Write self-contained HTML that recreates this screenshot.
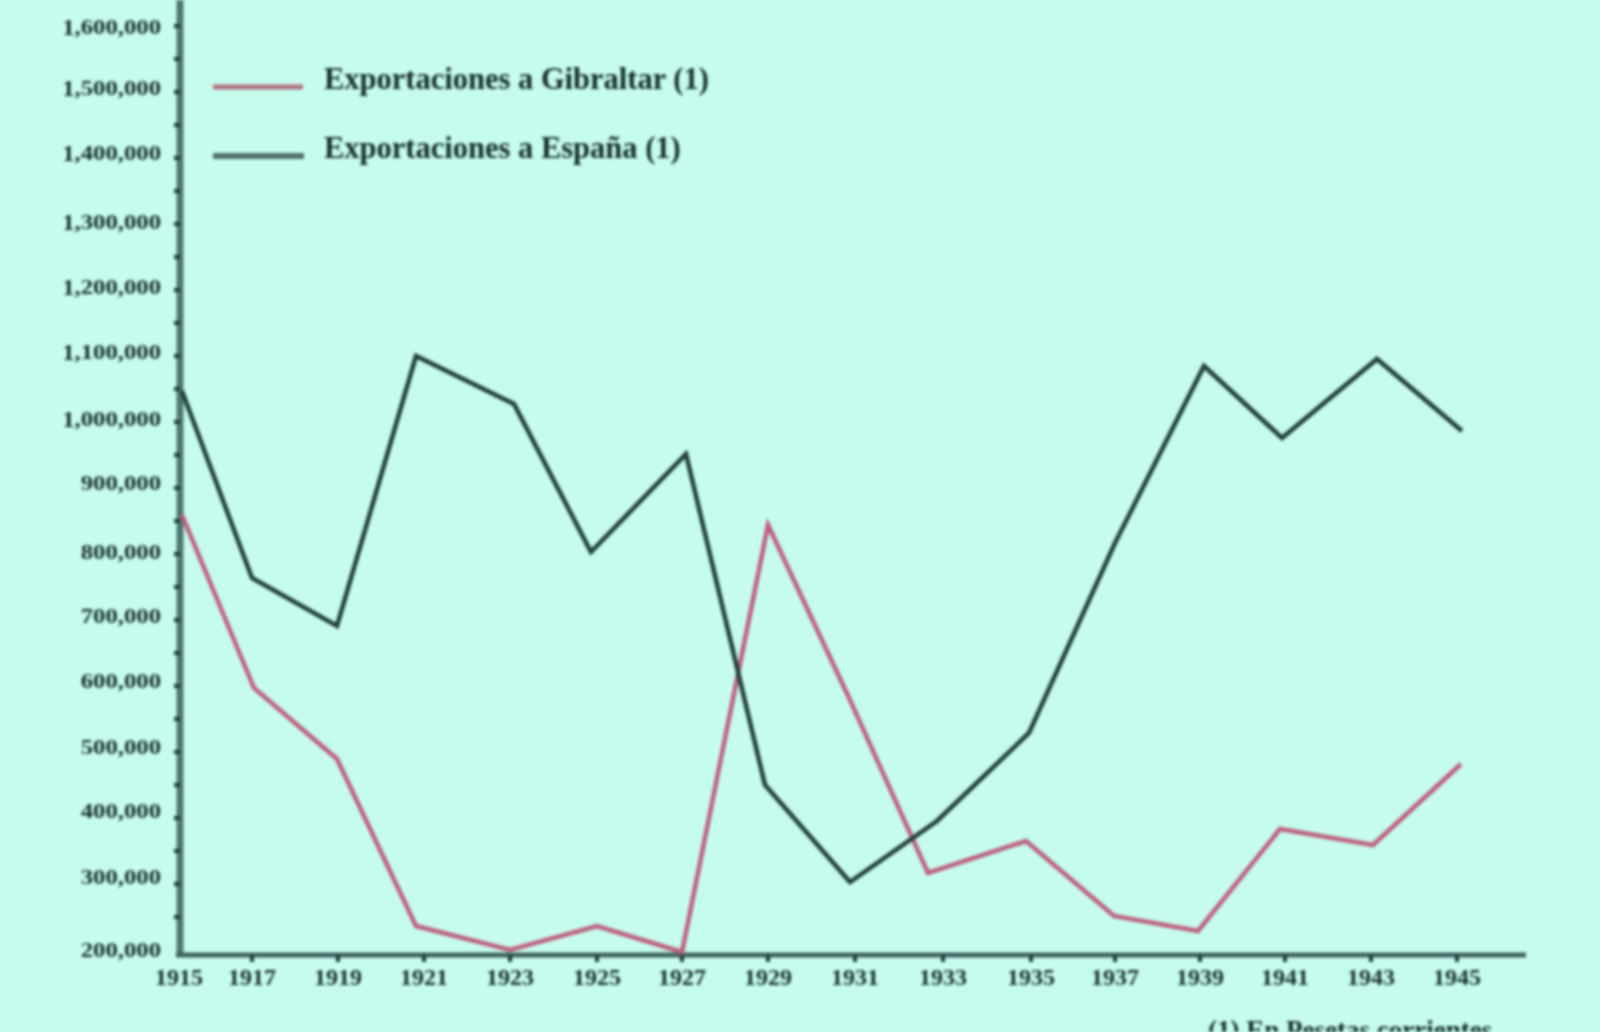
<!DOCTYPE html>
<html><head><meta charset="utf-8"><style>
html,body{margin:0;padding:0;background:#c6fcee;width:1600px;height:1032px;overflow:hidden}
svg{display:block;filter:blur(1.5px)}
text{font-family:"Liberation Serif",serif;font-weight:bold}
</style></head><body>
<svg width="1600" height="1032" viewBox="0 0 1600 1032">
<rect width="1600" height="1032" fill="#c6fcee"/>

<line x1="180" y1="0" x2="180" y2="957" stroke="#4f7671" stroke-width="7"/>
<line x1="174" y1="917.0" x2="180" y2="917.0" stroke="#1f3a36" stroke-width="4"/>
<line x1="174" y1="884.0" x2="180" y2="884.0" stroke="#1f3a36" stroke-width="4"/>
<line x1="174" y1="851.0" x2="180" y2="851.0" stroke="#1f3a36" stroke-width="4"/>
<line x1="174" y1="818.0" x2="180" y2="818.0" stroke="#1f3a36" stroke-width="4"/>
<line x1="174" y1="785.0" x2="180" y2="785.0" stroke="#1f3a36" stroke-width="4"/>
<line x1="174" y1="752.0" x2="180" y2="752.0" stroke="#1f3a36" stroke-width="4"/>
<line x1="174" y1="719.0" x2="180" y2="719.0" stroke="#1f3a36" stroke-width="4"/>
<line x1="174" y1="686.0" x2="180" y2="686.0" stroke="#1f3a36" stroke-width="4"/>
<line x1="174" y1="653.0" x2="180" y2="653.0" stroke="#1f3a36" stroke-width="4"/>
<line x1="174" y1="620.0" x2="180" y2="620.0" stroke="#1f3a36" stroke-width="4"/>
<line x1="174" y1="587.0" x2="180" y2="587.0" stroke="#1f3a36" stroke-width="4"/>
<line x1="174" y1="554.0" x2="180" y2="554.0" stroke="#1f3a36" stroke-width="4"/>
<line x1="174" y1="521.0" x2="180" y2="521.0" stroke="#1f3a36" stroke-width="4"/>
<line x1="174" y1="488.0" x2="180" y2="488.0" stroke="#1f3a36" stroke-width="4"/>
<line x1="174" y1="455.0" x2="180" y2="455.0" stroke="#1f3a36" stroke-width="4"/>
<line x1="174" y1="422.0" x2="180" y2="422.0" stroke="#1f3a36" stroke-width="4"/>
<line x1="174" y1="389.0" x2="180" y2="389.0" stroke="#1f3a36" stroke-width="4"/>
<line x1="174" y1="356.0" x2="180" y2="356.0" stroke="#1f3a36" stroke-width="4"/>
<line x1="174" y1="323.0" x2="180" y2="323.0" stroke="#1f3a36" stroke-width="4"/>
<line x1="174" y1="290.0" x2="180" y2="290.0" stroke="#1f3a36" stroke-width="4"/>
<line x1="174" y1="257.0" x2="180" y2="257.0" stroke="#1f3a36" stroke-width="4"/>
<line x1="174" y1="224.0" x2="180" y2="224.0" stroke="#1f3a36" stroke-width="4"/>
<line x1="174" y1="191.0" x2="180" y2="191.0" stroke="#1f3a36" stroke-width="4"/>
<line x1="174" y1="158.0" x2="180" y2="158.0" stroke="#1f3a36" stroke-width="4"/>
<line x1="174" y1="125.0" x2="180" y2="125.0" stroke="#1f3a36" stroke-width="4"/>
<line x1="174" y1="92.0" x2="180" y2="92.0" stroke="#1f3a36" stroke-width="4"/>
<line x1="174" y1="59.0" x2="180" y2="59.0" stroke="#1f3a36" stroke-width="4"/>
<line x1="174" y1="26.0" x2="180" y2="26.0" stroke="#1f3a36" stroke-width="4"/>
<line x1="176" y1="955" x2="1526" y2="955" stroke="#3d625d" stroke-width="5"/>
<line x1="252" y1="955" x2="252" y2="962" stroke="#1f3a36" stroke-width="4"/>
<line x1="338" y1="955" x2="338" y2="962" stroke="#1f3a36" stroke-width="4"/>
<line x1="424" y1="955" x2="424" y2="962" stroke="#1f3a36" stroke-width="4"/>
<line x1="510" y1="955" x2="510" y2="962" stroke="#1f3a36" stroke-width="4"/>
<line x1="597" y1="955" x2="597" y2="962" stroke="#1f3a36" stroke-width="4"/>
<line x1="682" y1="955" x2="682" y2="962" stroke="#1f3a36" stroke-width="4"/>
<line x1="768" y1="955" x2="768" y2="962" stroke="#1f3a36" stroke-width="4"/>
<line x1="855" y1="955" x2="855" y2="962" stroke="#1f3a36" stroke-width="4"/>
<line x1="943" y1="955" x2="943" y2="962" stroke="#1f3a36" stroke-width="4"/>
<line x1="1031" y1="955" x2="1031" y2="962" stroke="#1f3a36" stroke-width="4"/>
<line x1="1115" y1="955" x2="1115" y2="962" stroke="#1f3a36" stroke-width="4"/>
<line x1="1200" y1="955" x2="1200" y2="962" stroke="#1f3a36" stroke-width="4"/>
<line x1="1285" y1="955" x2="1285" y2="962" stroke="#1f3a36" stroke-width="4"/>
<line x1="1371" y1="955" x2="1371" y2="962" stroke="#1f3a36" stroke-width="4"/>
<line x1="1457" y1="955" x2="1457" y2="962" stroke="#1f3a36" stroke-width="4"/>
<text transform="translate(161,27) scale(1.03,0.84)" x="0" y="8" font-size="24" text-anchor="end" fill="#132c29">,600,000</text>
<text transform="translate(74.5,27) scale(1.03,0.98)" x="0" y="8" font-size="24" text-anchor="end" fill="#132c29">1</text>
<text transform="translate(161,88) scale(1.03,0.84)" x="0" y="8" font-size="24" text-anchor="end" fill="#132c29">,500,000</text>
<text transform="translate(74.5,88) scale(1.03,0.98)" x="0" y="8" font-size="24" text-anchor="end" fill="#132c29">1</text>
<text transform="translate(161,153) scale(1.03,0.84)" x="0" y="8" font-size="24" text-anchor="end" fill="#132c29">,400,000</text>
<text transform="translate(74.5,153) scale(1.03,0.98)" x="0" y="8" font-size="24" text-anchor="end" fill="#132c29">1</text>
<text transform="translate(161,222) scale(1.03,0.84)" x="0" y="8" font-size="24" text-anchor="end" fill="#132c29">,300,000</text>
<text transform="translate(74.5,222) scale(1.03,0.98)" x="0" y="8" font-size="24" text-anchor="end" fill="#132c29">1</text>
<text transform="translate(161,287) scale(1.03,0.84)" x="0" y="8" font-size="24" text-anchor="end" fill="#132c29">,200,000</text>
<text transform="translate(74.5,287) scale(1.03,0.98)" x="0" y="8" font-size="24" text-anchor="end" fill="#132c29">1</text>
<text transform="translate(161,352) scale(1.03,0.84)" x="0" y="8" font-size="24" text-anchor="end" fill="#132c29">,100,000</text>
<text transform="translate(74.5,352) scale(1.03,0.98)" x="0" y="8" font-size="24" text-anchor="end" fill="#132c29">1</text>
<text transform="translate(161,419) scale(1.03,0.84)" x="0" y="8" font-size="24" text-anchor="end" fill="#132c29">,000,000</text>
<text transform="translate(74.5,419) scale(1.03,0.98)" x="0" y="8" font-size="24" text-anchor="end" fill="#132c29">1</text>
<text transform="translate(161,483) scale(1.03,0.84)" x="0" y="8" font-size="24" text-anchor="end" fill="#132c29">900,000</text>
<text transform="translate(161,552) scale(1.03,0.84)" x="0" y="8" font-size="24" text-anchor="end" fill="#132c29">800,000</text>
<text transform="translate(161,616) scale(1.03,0.84)" x="0" y="8" font-size="24" text-anchor="end" fill="#132c29">700,000</text>
<text transform="translate(161,681) scale(1.03,0.84)" x="0" y="8" font-size="24" text-anchor="end" fill="#132c29">600,000</text>
<text transform="translate(161,747) scale(1.03,0.84)" x="0" y="8" font-size="24" text-anchor="end" fill="#132c29">500,000</text>
<text transform="translate(161,811) scale(1.03,0.84)" x="0" y="8" font-size="24" text-anchor="end" fill="#132c29">400,000</text>
<text transform="translate(161,877) scale(1.03,0.84)" x="0" y="8" font-size="24" text-anchor="end" fill="#132c29">300,000</text>
<text transform="translate(161,950) scale(1.03,0.84)" x="0" y="8" font-size="24" text-anchor="end" fill="#132c29">200,000</text>
<text x="179" y="985" font-size="24" text-anchor="middle" fill="#132c29">1915</text>
<text x="252" y="985" font-size="24" text-anchor="middle" fill="#132c29">1917</text>
<text x="338" y="985" font-size="24" text-anchor="middle" fill="#132c29">1919</text>
<text x="424" y="985" font-size="24" text-anchor="middle" fill="#132c29">1921</text>
<text x="510" y="985" font-size="24" text-anchor="middle" fill="#132c29">1923</text>
<text x="597" y="985" font-size="24" text-anchor="middle" fill="#132c29">1925</text>
<text x="682" y="985" font-size="24" text-anchor="middle" fill="#132c29">1927</text>
<text x="768" y="985" font-size="24" text-anchor="middle" fill="#132c29">1929</text>
<text x="855" y="985" font-size="24" text-anchor="middle" fill="#132c29">1931</text>
<text x="943" y="985" font-size="24" text-anchor="middle" fill="#132c29">1933</text>
<text x="1031" y="985" font-size="24" text-anchor="middle" fill="#132c29">1935</text>
<text x="1115" y="985" font-size="24" text-anchor="middle" fill="#132c29">1937</text>
<text x="1200" y="985" font-size="24" text-anchor="middle" fill="#132c29">1939</text>
<text x="1285" y="985" font-size="24" text-anchor="middle" fill="#132c29">1941</text>
<text x="1371" y="985" font-size="24" text-anchor="middle" fill="#132c29">1943</text>
<text x="1457" y="985" font-size="24" text-anchor="middle" fill="#132c29">1945</text>
<line x1="213" y1="87" x2="303" y2="87" stroke="#b07080" stroke-width="5"/>
<line x1="213" y1="156" x2="304" y2="156" stroke="#4d706b" stroke-width="6"/>
<text x="324" y="89" font-size="30.5" fill="#132c29">Exportaciones a Gibraltar (1)</text>
<text x="324" y="158" font-size="30.5" fill="#132c29">Exportaciones a España (1)</text>
<polyline points="182,515 254,688 337,759 416,926 510,950 597,926 682,952 768,525 850,700 928,873 1026,841 1114,916 1198,931 1280,829 1373,845 1461,764" fill="none" stroke="#bd5f7e" stroke-width="4.5" stroke-linejoin="miter"/>
<polyline points="182,391 252,578 337,626 416,356 514,404 591,552 686,454 765,785 850,882 937,821 1029,733 1115,543 1204,366 1282,438 1377,359 1462,431" fill="none" stroke="#1f3d39" stroke-width="4.5" stroke-linejoin="miter"/>
<text x="1208" y="1039" font-size="27" fill="#132c29">(1) En Pesetas corrientes</text>
</svg></body></html>
